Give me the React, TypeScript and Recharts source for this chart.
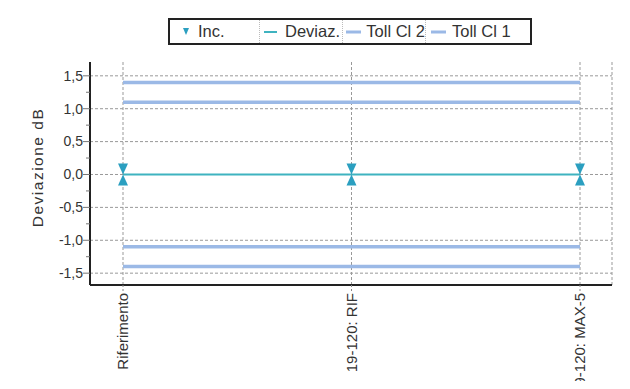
import React from "react";
import {
  ComposedChart,
  Line,
  XAxis,
  YAxis,
  CartesianGrid,
  Label,
} from "recharts";

const FONT = '"Liberation Sans", Arial, sans-serif';
const TEAL = "#3fb3c0";
const INC_COLOR = "#2b9fc0";
const TOLL = "#9bb9e6";

// valori
const categories = ["Riferimento", "19-120: RIF", "19-120: MAX-5"];
const deviaz = [0, 0, 0];
const incSup = [0, 0, 0];
const incInf = [0, 0, 0];
const tollCl2Sup = [1.4, 1.4, 1.4];
const tollCl2Inf = [-1.4, -1.4, -1.4];
const tollCl1Sup = [1.1, 1.1, 1.1];
const tollCl1Inf = [-1.1, -1.1, -1.1];

const yTicks = [-1.5, -1.25, -1, -0.75, -0.5, -0.25, 0, 0.25, 0.5, 0.75, 1, 1.25, 1.5];
const yMajor = [-1.5, -1, -0.5, 0, 0.5, 1, 1.5];

const legendItems = [
  { name: "Inc.", kind: "triangle", color: INC_COLOR, width: 89, pad: 12 },
  { name: "Deviaz.", kind: "line", color: TEAL, width: 83, pad: 3 },
  { name: "Toll Cl 2", kind: "line", color: TOLL, width: 83, pad: 2 },
  { name: "Toll Cl 1", kind: "line", color: TOLL, width: 105, pad: 4 },
];

const data = categories.map((c, i) => ({
  cat: c,
  deviaz: deviaz[i],
  incSup: incSup[i],
  incInf: incInf[i],
  t2s: tollCl2Sup[i],
  t2i: tollCl2Inf[i],
  t1s: tollCl1Sup[i],
  t1i: tollCl1Inf[i],
}));

const fmt = (v: number) => v.toFixed(1).replace(".", ",");

function YTick(props: any) {
  const { x, y, payload } = props;
  const major = yMajor.includes(payload.value);
  return (
    <g>
      <line x1={x - (major ? 7 : 4)} x2={x} y1={y} y2={y} stroke="#777" strokeWidth={1} />
      {major && (
        <text
          x={x - 7}
          y={y}
          dy="0.35em"
          textAnchor="end"
          fontSize={14}
          fontFamily={FONT}
          fill="#333"
        >
          {fmt(payload.value)}
        </text>
      )}
    </g>
  );
}

function XTick(props: any) {
  const { x, y, payload } = props;
  return (
    <g>
      <line x1={x} x2={x} y1={y} y2={y + 7} stroke="#888" strokeDasharray="2 2" />
      <text
        transform={`translate(${x},${y + 8}) rotate(-90)`}
        textAnchor="end"
        dy="0.35em"
        fontSize={15}
        fontFamily={FONT}
        fill="#333"
      >
        {payload.value}
      </text>
    </g>
  );
}

function DownTri(props: any) {
  const { cx, cy } = props;
  if (cx == null || cy == null) return null;
  return <path d={`M${cx - 5},${cy - 11} L${cx + 5},${cy - 11} L${cx},${cy} Z`} fill={INC_COLOR} />;
}

function UpTri(props: any) {
  const { cx, cy } = props;
  if (cx == null || cy == null) return null;
  return <path d={`M${cx - 5},${cy + 11} L${cx + 5},${cy + 11} L${cx},${cy} Z`} fill={INC_COLOR} />;
}

function YLabel(props: any) {
  const { x, y, height } = props.viewBox;
  return (
    <text
      transform={`translate(${x + 15},${y + height / 2 - 6}) rotate(-90)`}
      textAnchor="middle"
      fontSize={15.5}
      letterSpacing={1.5}
      fontFamily={FONT}
      fill="#333"
    >
      Deviazione dB
    </text>
  );
}

function LegendBox() {
  return (
    <div
      style={{
        position: "absolute",
        left: 168,
        top: 18,
        height: 23,
        display: "flex",
        border: "2px solid #222",
        background: "#fff",
        fontFamily: FONT,
        fontSize: 16.5,
        color: "#333",
      }}
    >
      {legendItems.map((it, i) => (
        <div
          key={it.name}
          style={{
            width: it.width,
            paddingLeft: it.pad,
            boxSizing: "border-box",
            display: "flex",
            alignItems: "center",
            borderLeft: i > 0 ? "1px dotted #bbb" : "none",
            whiteSpace: "nowrap",
          }}
        >
          {it.kind === "triangle" ? (
            <svg width={12} height={12} style={{ marginRight: 4 }}>
              <path d="M1,2 L7,2 L4,9 Z" fill={it.color} />
            </svg>
          ) : (
            <svg width={17} height={12} style={{ marginRight: 5 }}>
              <line
                x1={1}
                x2={it.color === TOLL ? 16 : 14}
                y1={6}
                y2={6}
                stroke={it.color}
                strokeWidth={it.color === TOLL ? 3 : 2}
              />
            </svg>
          )}
          {it.name}
        </div>
      ))}
    </div>
  );
}

export default function App() {
  return (
    <div style={{ position: "relative", width: 630, height: 389, margin: -8, background: "#fff" }}>
      <ComposedChart
        width={630}
        height={389}
        data={data}
        margin={{ top: 62, right: 18, bottom: 4, left: 28 }}
      >
        <CartesianGrid
          horizontalValues={yMajor}
          stroke="#999"
          strokeDasharray="3 2"
          fill="#fff"
        />
        <XAxis
          dataKey="cat"
          interval={0}
          height={100}
          padding={{ left: 33, right: 32 }}
          tickSize={0}
          tickMargin={0}
          tickLine={false}
          tick={<XTick />}
          axisLine={{ stroke: "#222", strokeWidth: 2 }}
        />
        <XAxis
          xAxisId="top"
          orientation="top"
          dataKey="cat"
          height={0}
          tick={false}
          tickLine={false}
          axisLine={{ stroke: "#222", strokeWidth: 2 }}
        />
        <YAxis
          type="number"
          domain={[-1.68, 1.71]}
          ticks={yTicks}
          interval={0}
          width={62}
          tickSize={0}
          tickMargin={0}
          tickLine={false}
          tick={<YTick />}
          axisLine={{ stroke: "#222", strokeWidth: 2 }}
          allowDataOverflow
        >
          <Label content={<YLabel />} />
        </YAxis>
        <YAxis
          yAxisId="right"
          orientation="right"
          type="number"
          domain={[-1.68, 1.71]}
          width={0}
          tick={false}
          tickLine={false}
          axisLine={{ stroke: "#222", strokeWidth: 2 }}
        />
        <Line dataKey="t2s" stroke={TOLL} strokeWidth={3.5} dot={false} isAnimationActive={false} />
        <Line dataKey="t2i" stroke={TOLL} strokeWidth={3.5} dot={false} isAnimationActive={false} />
        <Line dataKey="t1s" stroke={TOLL} strokeWidth={3.5} dot={false} isAnimationActive={false} />
        <Line dataKey="t1i" stroke={TOLL} strokeWidth={3.5} dot={false} isAnimationActive={false} />
        <Line dataKey="deviaz" stroke={TEAL} strokeWidth={2} dot={false} isAnimationActive={false} />
        <Line dataKey="incSup" stroke="none" dot={<DownTri />} activeDot={false} isAnimationActive={false} />
        <Line dataKey="incInf" stroke="none" dot={<UpTri />} activeDot={false} isAnimationActive={false} />
      </ComposedChart>
      <LegendBox />
    </div>
  );
}
